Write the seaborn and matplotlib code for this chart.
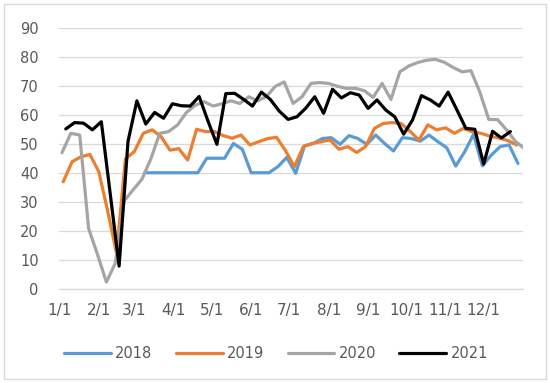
import numpy as np
import pandas as pd
import matplotlib
matplotlib.use('Agg')
import matplotlib.pyplot as plt
import seaborn as sns

# weekly readings per year
years = ['2018', '2019', '2020', '2021']
start_dates = ['2018-03-09', '2019-01-04', '2020-01-03', '2021-01-06']
colors = ['#5B9BD5', '#ED7D31', '#A5A5A5', '#000000']

v2018 = [40.2, 40.2, 40.2, 40.2, 40.2, 40.2, 40.2, 45.2, 45.2, 45.2,
         50.3, 48.3, 40.2, 40.2, 40.2, 42.3, 45.5, 40, 49.5, 50.3,
         52, 52.3, 50, 53, 52, 50, 53.2, 50.3, 47.7, 52.3,
         52, 51.1, 53.2, 50.9, 48.8, 42.5, 47.4, 53.4, 42.6, 46.3,
         49.2, 49.8, 43.4]
v2019 = [37.1, 44, 45.7, 46.5, 40.6, 27, 12.5, 45, 47.5, 53.8,
         55, 52.7, 48, 48.5, 44.6, 55.2, 54.4, 54.4, 53, 52.1,
         53.2, 49.8, 50.9, 52, 52.4, 47.8, 42.3, 49.2, 50.3, 50.9,
         51.5, 48.3, 49.2, 47.2, 49.2, 55.5, 57.2, 57.5, 57.2, 54.5,
         51.5, 56.7, 55, 55.7, 53.8, 55.5, 54.3, 53.8, 52.8, 52.2,
         51.3, 49.8]
v2020 = [47.1, 53.8, 53.2, 21, 12, 2.5, 9, 30.5, 34.3, 38,
         45, 53.8, 54.4, 56.7, 61, 63.5, 64.7, 63.2, 64, 65,
         64.1, 66.4, 65, 66.5, 70, 71.5, 64.1, 66.4, 71, 71.3,
         71, 70, 69.3, 69.3, 68.5, 66.2, 71, 65.5, 75, 77,
         78.2, 79, 79.3, 78.3, 76.5, 75, 75.4, 68, 58.6, 58.5,
         55, 51, 48.6]
v2021 = [55.3, 57.5, 57.3, 55.0, 57.8, 33, 8, 51, 65, 57,
         61, 59, 64, 63.3, 63.2, 66.5, 58, 50, 67.5, 67.6,
         65.5, 63.2, 68, 65.5, 61.5, 58.6, 59.5, 62.5, 66.4, 60.7,
         69, 66, 67.8, 67, 62.4, 65.3, 61.8, 59.5, 53.5, 58.4,
         66.8, 65.3, 63.2, 68, 61.8, 55.5, 55.2, 43.2, 54.5, 52.2,
         54.4]

month_labels = [f'{m}/1' for m in range(1, 13)]

# long table, x = day of the year
frames = []
for yr, start, vals in zip(years, start_dates, [v2018, v2019, v2020, v2021]):
    dates = pd.date_range(start, periods=len(vals), freq='7D')
    day = (dates - pd.Timestamp(int(yr), 1, 1)).days
    frames.append(pd.DataFrame({'day': day, 'value': vals, 'year': yr}))
df = pd.concat(frames, ignore_index=True)

sns.set_style('white')
plt.rcParams['font.family'] = ['DejaVu Sans']
txt = '#595959'
grid = '#D9D9D9'

fig = plt.figure(figsize=(5.5, 3.83), dpi=100)
ax = fig.add_axes([0.108, 0.2446, 0.843, 0.6814])

sns.lineplot(data=df, x='day', y='value', hue='year', hue_order=years,
             palette=colors, linewidth=2.3, ax=ax)
for ln in ax.get_lines():
    ln.set_solid_joinstyle('round')

month_days = [(pd.Timestamp(2001, m, 1) - pd.Timestamp(2001, 1, 1)).days for m in range(1, 13)]
ax.set_xlim(0, 365)
ax.set_ylim(0, 90)
ax.set_xticks(month_days + [365])
ax.set_xticklabels(month_labels + [''])
ax.set_yticks(np.arange(0, 91, 10))
ax.yaxis.grid(True, color=grid, lw=0.9)
ax.set_axisbelow(True)
for s in ['top', 'right', 'left']:
    ax.spines[s].set_visible(False)
ax.spines['bottom'].set_color(grid)
ax.spines['bottom'].set_linewidth(0.9)
ax.tick_params(axis='x', length=5, color=grid, width=0.9, pad=5, labelsize=11, labelcolor=txt)
ax.tick_params(axis='y', length=0, pad=15, labelsize=10.5, labelcolor=txt)
ax.set_xlabel('')
ax.set_ylabel('')

handles, labels = ax.get_legend_handles_labels()
ax.get_legend().remove()
fig.legend(handles, labels, loc='center', bbox_to_anchor=(0.502, 0.078), ncol=4,
           frameon=False, handlelength=3.2, handletextpad=0.3, columnspacing=1.6,
           prop={'size': 10.5}, labelcolor=txt)

fig.add_artist(plt.Rectangle((0.007, 0.01), 0.985, 0.98, transform=fig.transFigure,
                             fill=False, edgecolor=grid, lw=1))

fig.savefig('out.png', dpi=100)
